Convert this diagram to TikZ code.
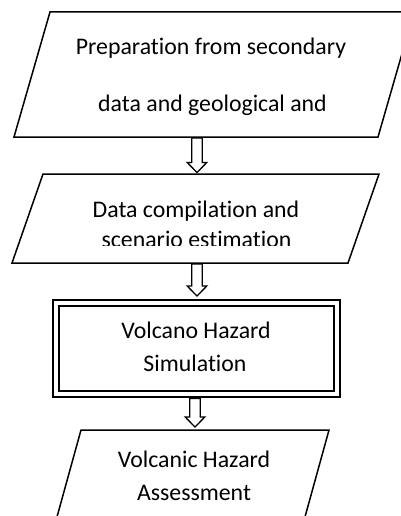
\documentclass[tikz,border=0pt]{standalone}
\usepackage{fontspec}
\setmainfont[Ligatures={NoCommon,NoContextual}]{Carlito}
\usetikzlibrary{calc}
\newcommand{\blkarr}[2]{%
  \draw[blockarrow] let \p1=(#1), \p2=(#2) in
    (\x1-5.3pt,\y1) -- (\x1+5.3pt,\y1) -- (\x1+5.3pt,\y2+10pt) --
    (\x1+9.8pt,\y2+10pt) -- (\x1,\y2) -- (\x1-9.8pt,\y2+10pt) --
    (\x1-5.3pt,\y2+10pt) -- cycle;}
\begin{document}
\begin{tikzpicture}[x=1pt,y=-1pt,
  shapeline/.style={line width=1.5pt, line join=miter},
  blockarrow/.style={draw, fill=white, line width=1.3pt, line join=miter},
  lbl/.style={font=\fontsize{23.8}{29}\selectfont, anchor=base, inner sep=0pt, text=black}]
\useasboundingbox (0,0) rectangle (401,516);
\clip (0,0) rectangle (401,516);
% shape 1
\coordinate (s1tl) at (50,12);
\coordinate (s1tr) at (414,12);
\coordinate (s1br) at (378,137);
\coordinate (s1bl) at (14,137);
\draw[shapeline] (s1tl) -- (s1tr) -- (s1br) -- (s1bl) -- cycle;
\node[lbl] (t1a) at (211,55) {Preparation from secondary};
\node[lbl] (t1b) at (212.5,112) {data and geological and};
% shape 2
\coordinate (s2tl) at (43,174);
\coordinate (s2tr) at (379,174);
\coordinate (s2br) at (348,263);
\coordinate (s2bl) at (12,263);
\draw[shapeline] (s2tl) -- (s2tr) -- (s2br) -- (s2bl) -- cycle;
\node[lbl] (t2a) at (196,217) {Data compilation and};
\begin{scope}
  \clip (0,0) rectangle (401,245.5);
  \node[lbl] (t2b) at (196.5,247.8) {scenario estimation};
\end{scope}
% box 3
\node[draw, line width=2.4pt, minimum width=275pt, minimum height=85pt, inner sep=0pt] (sim) at (196.5,348.5) {};
\draw[line width=2.2pt] ($(sim.north west)+(-5,-5)$) rectangle ($(sim.south east)+(4.5,5)$);
\node[lbl] (t3a) at (196,338) {Volcano Hazard};
\node[lbl] (t3b) at (195,371) {Simulation};
% shape 4
\coordinate (s4tl) at (81,430);
\coordinate (s4tr) at (329,430);
\coordinate (s4br) at (300,535);
\coordinate (s4bl) at (52,535);
\draw[shapeline] (s4tl) -- (s4tr) -- (s4br) -- (s4bl) -- cycle;
\node[lbl] (t4a) at (194,467) {Volcanic Hazard};
\node[lbl] (t4b) at (194,500) {Assessment};
% arrows
\coordinate (a1s) at (197,138);
\coordinate (a1e) at (197,172.5);
\coordinate (a2s) at (197,264);
\coordinate (a2e) at (197,296);
\coordinate (a3s) at (195,398.5);
\coordinate (a3e) at (195,427);
\blkarr{a1s}{a1e}
\blkarr{a2s}{a2e}
\blkarr{a3s}{a3e}
\end{tikzpicture}
\end{document}
